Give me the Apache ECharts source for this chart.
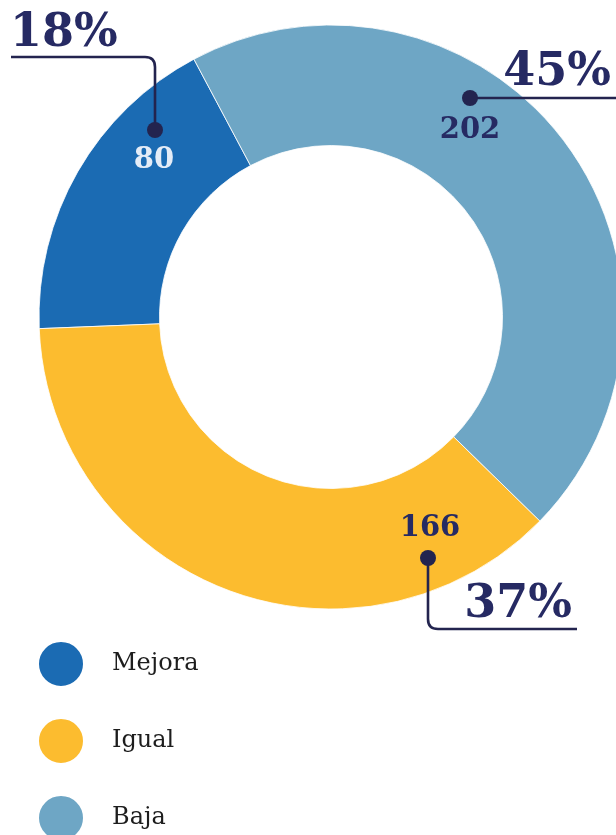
<!DOCTYPE html>
<html>
<head>
<meta charset="utf-8">
<script src="https://cdn.jsdelivr.net/npm/echarts@6/dist/echarts.min.js"></script>
<style>
  html, body { margin: 0; padding: 0; background: #ffffff; }
  #chart { width: 616px; height: 835px; }
</style>
</head>
<body>
<div id="chart"></div>
<script>
// Response categories and their counts
const categories = ['Mejora', 'Igual', 'Baja'];
const counts = [80, 166, 202];
const sliceColors = ['#1b6bb3', '#fcbc2f', '#6ea6c5'];

const navy = '#262a63';
const leaderColor = '#23244f';
const total = counts.reduce((a, b) => a + b, 0);
const percentText = counts.map(v => Math.round(v / total * 100) + '%');

// Callout decoration for each category: dot, leader segments (straight + rounded corner),
// value and percent labels
const callouts = [
  { dot: [155, 130],
    lines: [[11, 57, 145, 57], [155, 67, 155, 130]],
    corners: [[145, 57, 155, 57, 155, 67]],
    value: [154, 160], valueColor: '#e4ecf7',
    pct: [10, 34], pctAlign: 'left' },
  { dot: [428, 558],
    lines: [[428, 558, 428, 619], [438, 629, 577, 629]],
    corners: [[428, 619, 428, 629, 438, 629]],
    value: [430, 528], valueColor: navy,
    pct: [572, 605], pctAlign: 'right' },
  { dot: [470, 98],
    lines: [[470, 98, 616, 98]],
    corners: [],
    value: [470, 130], valueColor: navy,
    pct: [611, 73], pctAlign: 'right' }
];

const lineStyle = { fill: null, stroke: leaderColor, lineWidth: 2.6 };
const graphics = [];
callouts.forEach((c, i) => {
  c.lines.forEach(l => graphics.push({
    type: 'line', silent: true, z: 10,
    shape: { x1: l[0], y1: l[1], x2: l[2], y2: l[3] },
    style: lineStyle
  }));
  c.corners.forEach(q => graphics.push({
    type: 'bezierCurve', silent: true, z: 10,
    shape: { x1: q[0], y1: q[1], cpx1: q[2], cpy1: q[3], x2: q[4], y2: q[5] },
    style: lineStyle
  }));
  graphics.push({
    type: 'circle', silent: true, z: 11,
    shape: { cx: c.dot[0], cy: c.dot[1], r: 8 },
    style: { fill: leaderColor }
  });
  graphics.push({
    type: 'text', silent: true, z: 11,
    style: {
      x: c.value[0], y: c.value[1], text: String(counts[i]),
      fill: c.valueColor, font: 'bold 29px "DejaVu Serif"',
      textAlign: 'center', textVerticalAlign: 'middle'
    }
  });
  graphics.push({
    type: 'text', silent: true, z: 11,
    style: {
      x: c.pct[0], y: c.pct[1], text: percentText[i],
      fill: navy, font: 'bold 46px "DejaVu Serif"',
      textAlign: c.pctAlign, textVerticalAlign: 'middle'
    }
  });
});

const chart = echarts.init(document.getElementById('chart'), null, { renderer: 'canvas' });
chart.setOption({
  animation: false,
  backgroundColor: '#ffffff',
  color: sliceColors,
  legend: {
    orient: 'vertical',
    left: 37,
    top: 640,
    height: 230,
    padding: 0,
    icon: 'circle',
    itemWidth: 46,
    itemHeight: 46,
    itemGap: 29,
    selectedMode: false,
    data: categories,
    textStyle: {
      fontFamily: 'DejaVu Serif',
      fontSize: 24,
      color: '#1d1d1d',
      padding: [0, 0, 0, 23]
    }
  },
  series: [{
    type: 'pie',
    center: [331, 317],
    radius: [171.5, 292],
    startAngle: 118,
    clockwise: false,
    silent: true,
    label: { show: false },
    labelLine: { show: false },
    itemStyle: { borderColor: '#ffffff', borderWidth: 0.8 },
    emphasis: { disabled: true },
    data: categories.map((name, i) => ({ name: name, value: counts[i] }))
  }],
  graphic: graphics
});
</script>
</body>
</html>
